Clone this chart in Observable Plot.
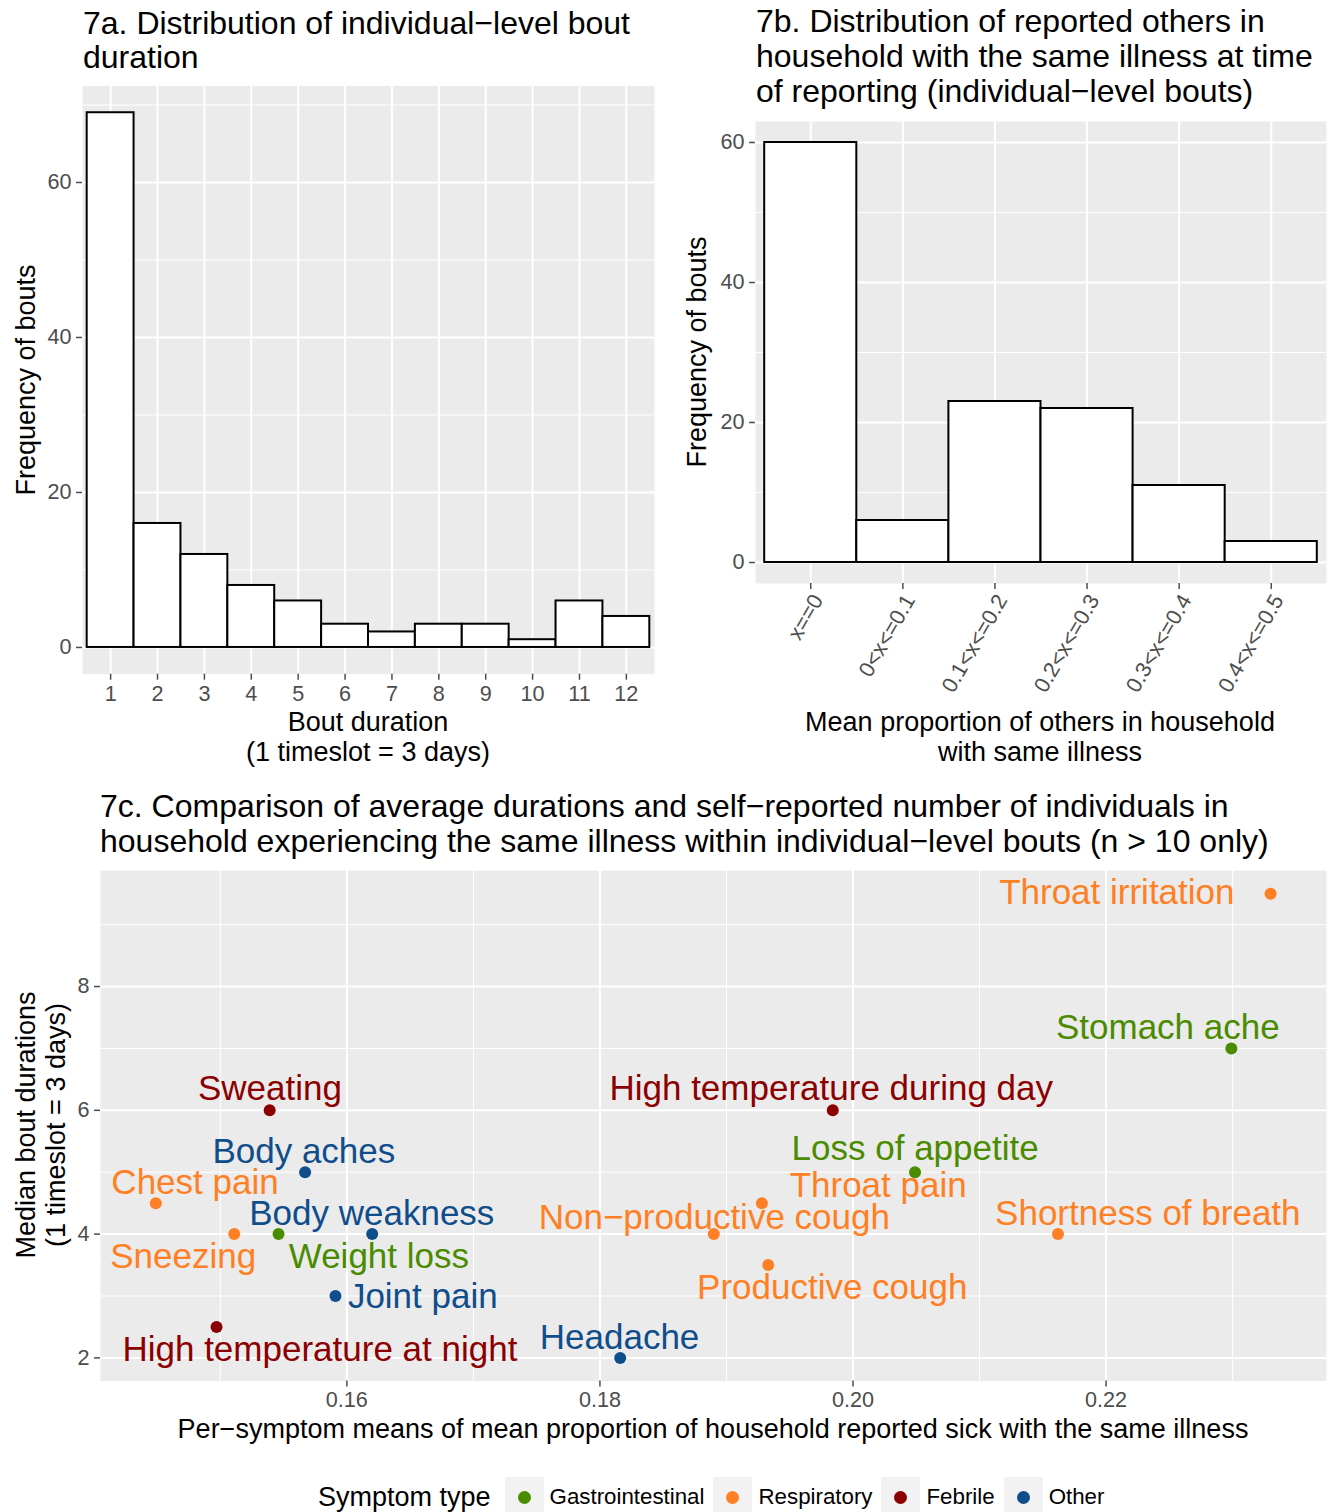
<!DOCTYPE html>
<html><head><meta charset="utf-8">
<script src="https://cdn.jsdelivr.net/npm/d3@7"></script>
<script src="https://cdn.jsdelivr.net/npm/@observablehq/plot@0.6"></script>
<style>
body{margin:0;background:#fff;}
#root{position:relative;width:1333px;height:1512px;overflow:hidden;font-family:"Liberation Sans",Arial,Helvetica,sans-serif;color:#000;}
.abs{position:absolute;white-space:nowrap;}
.ctr{position:absolute;white-space:nowrap;transform:translate(-50%,-50%);}
#root svg{position:absolute;}
</style></head><body><div id="root"></div>
<script>
// ---- 7a data ----
const boutDurations = ["1","2","3","4","5","6","7","8","9","10","11","12"];
const boutCounts = [69,16,12,8,6,3,2,3,3,1,6,4];
const countTicksA = [0,20,40,60];
const countMinorA = [10,30,50,70];
// ---- 7b data ----
const propCategories = ["x==0","0<x<=0.1","0.1<x<=0.2","0.2<x<=0.3","0.3<x<=0.4","0.4<x<=0.5"];
const propCounts = [60,6,23,22,11,3];
const countTicksB = [0,20,40,60];
const countMinorB = [10,30,50];
// ---- 7c data ----
const symptoms = ["Throat irritation","Stomach ache","High temperature during day","Loss of appetite","Throat pain","Non\u2212productive cough","Shortness of breath","Productive cough","Headache","Sweating","Body aches","Chest pain","Sneezing","Weight loss","Body weakness","Joint pain","High temperature at night"];
const symptomType = ["Respiratory","Gastrointestinal","Febrile","Gastrointestinal","Respiratory","Respiratory","Respiratory","Respiratory","Other","Febrile","Other","Respiratory","Respiratory","Gastrointestinal","Other","Other","Febrile"];
const meanProportion = [0.2330,0.2299,0.1984,0.2049,0.1928,0.1890,0.2162,0.1933,0.1816,0.1539,0.1567,0.1449,0.1511,0.1546,0.1620,0.1591,0.1497];
const medianDuration = [9.5,7,6,5,4.5,4,4,3.5,2,6,5,4.5,4,4,4,3,2.5];
// repelled label anchors (data units)
const labelX = [0.22085,0.22488,0.19828,0.20491,0.20199,0.18904,0.2233,0.19836,0.18155,0.15392,0.1566,0.1480,0.14706,0.16253,0.16197,0.1660,0.15787];
const labelY = [9.51,7.34,6.34,5.38,4.78,4.27,4.33,3.13,2.32,6.35,5.33,4.83,3.63,3.63,4.33,2.99,2.13];
const xTicksC = [0.16,0.18,0.20,0.22];
const xMinorC = [0.15,0.17,0.19,0.21,0.23];
const yTicksC = [2,4,6,8];
const yMinorC = [3,5,7,9];
const typeNames = ["Gastrointestinal","Respiratory","Febrile","Other"];
const typeColors = ["#4A8B00","#FF7F24","#8B0000","#104E8B"];

const root = document.getElementById("root");
const FONT = '"Liberation Sans",Arial,Helvetica,sans-serif';
const baseStyle = {background:"transparent", fontFamily: FONT, overflow:"visible"};
const PANEL = "#EBEBEB";
const TICKC = "#4D4D4D";

function place(svg, left, top){ svg.style.left = left+"px"; svg.style.top = top+"px"; root.appendChild(svg); }
function ctext(txt, x, y, size, opts={}){
  const d = document.createElement("div");
  d.className = "ctr"; d.textContent = txt;
  d.style.left = x+"px"; d.style.top = y+"px"; d.style.fontSize = size+"px";
  d.style.lineHeight = (size*1.15)+"px";
  if (opts.rotate) d.style.transform = "translate(-50%,-50%) rotate(-90deg)";
  if (opts.color) d.style.color = opts.color;
  root.appendChild(d); return d;
}
function ltext(html, x, top, size, lh){
  const d = document.createElement("div");
  d.className = "abs"; d.innerHTML = html;
  d.style.left = x+"px"; d.style.top = top+"px"; d.style.fontSize = size+"px"; d.style.lineHeight = lh+"px";
  root.appendChild(d); return d;
}

// ---------- 7a ----------
const idxA = d3.range(boutDurations.length);
const plotA = Plot.plot({
  width: 666, height: 780,
  marginLeft: 82, marginRight: 12, marginTop: 85.5, marginBottom: 106.3,
  style: baseStyle,
  x: {type:"band", domain: boutDurations, paddingInner: 0, paddingOuter: 0.1, round: false, axis: null},
  y: {domain: [-3.45, 72.45], axis: null},
  marks: [
    Plot.frame({fill: PANEL, stroke: null}),
    Plot.gridY(countMinorA, {stroke:"white", strokeOpacity:1, strokeWidth:1}),
    Plot.gridY(countTicksA, {stroke:"white", strokeOpacity:1, strokeWidth:2}),
    Plot.gridX(boutDurations, {stroke:"white", strokeOpacity:1, strokeWidth:2}),
    Plot.barY(idxA, {x: i => boutDurations[i], y: i => boutCounts[i], fill:"white", stroke:"black", strokeWidth:2}),
    Plot.axisY(countTicksA, {tickSize:6, tickPadding:5, fontSize:21.6, color:TICKC, strokeWidth:1.5}),
    Plot.axisX(boutDurations, {tickSize:6, tickPadding:5, fontSize:21.6, color:TICKC, strokeWidth:1.5})
  ]
});
place(plotA, 0, 0);

// ---------- 7b ----------
const idxB = d3.range(propCategories.length);
const plotB = Plot.plot({
  width: 653, height: 780,
  marginLeft: 75, marginRight: 7, marginTop: 121, marginBottom: 197,
  style: baseStyle,
  x: {type:"band", domain: propCategories, paddingInner: 0, paddingOuter: 0.1, round: false, axis: null},
  y: {domain: [-3, 63], axis: null},
  marks: [
    Plot.frame({fill: PANEL, stroke: null}),
    Plot.gridY(countMinorB, {stroke:"white", strokeOpacity:1, strokeWidth:1}),
    Plot.gridY(countTicksB, {stroke:"white", strokeOpacity:1, strokeWidth:2}),
    Plot.gridX(propCategories, {stroke:"white", strokeOpacity:1, strokeWidth:2}),
    Plot.barY(idxB, {x: i => propCategories[i], y: i => propCounts[i], fill:"white", stroke:"black", strokeWidth:2}),
    Plot.axisY(countTicksB, {tickSize:6, tickPadding:5, fontSize:21.6, color:TICKC, strokeWidth:1.5}),
    Plot.axisX(propCategories, {tickSize:6, tickPadding:4, fontSize:21.6, color:TICKC, strokeWidth:1.5, text: null}),
    Plot.axisX(propCategories, {tickSize:0, tickPadding:4, fontSize:21.6, color:TICKC, tickRotate:-60, dx:7, dy:9})
  ]
});
place(plotB, 680, 0);

// ---------- 7c ----------
const idxC = d3.range(symptoms.length);
const plotC = Plot.plot({
  width: 1333, height: 660,
  marginLeft: 100, marginRight: 7, marginTop: 90, marginBottom: 59.4,
  style: baseStyle,
  x: {domain: [0.14053, 0.23742], axis: null},
  y: {domain: [1.625, 9.875], axis: null},
  color: {domain: typeNames, range: typeColors},
  marks: [
    Plot.frame({fill: PANEL, stroke: null}),
    Plot.gridX(xMinorC, {stroke:"white", strokeOpacity:1, strokeWidth:1}),
    Plot.gridY(yMinorC, {stroke:"white", strokeOpacity:1, strokeWidth:1}),
    Plot.gridX(xTicksC, {stroke:"white", strokeOpacity:1, strokeWidth:2}),
    Plot.gridY(yTicksC, {stroke:"white", strokeOpacity:1, strokeWidth:2}),
    Plot.dot(idxC, {x: i => meanProportion[i], y: i => medianDuration[i], r: 6, fill: i => symptomType[i], stroke: null}),
    Plot.text(idxC, {x: i => labelX[i], y: i => labelY[i], text: i => symptoms[i], fill: i => symptomType[i], fontSize: 35, textAnchor: "middle", lineAnchor: "middle"}),
    Plot.axisY(yTicksC, {tickSize:6, tickPadding:5, fontSize:21.6, color:TICKC, strokeWidth:1.5, tickFormat: d => String(d)}),
    Plot.axisX(xTicksC, {tickSize:6, tickPadding:5, fontSize:21.6, color:TICKC, strokeWidth:1.5, tickFormat: d => d.toFixed(2)})
  ]
});
place(plotC, 0, 780);

// ---------- titles ----------
ltext("7a. Distribution of individual\u2212level bout<br>duration", 83, 5.7, 32, 34.5);
ltext("7b. Distribution of reported others in<br>household with the same illness at time<br>of reporting (individual\u2212level bouts)", 756, 4.4, 32, 35);
ltext("7c. Comparison of average durations and self\u2212reported number of individuals in<br>household experiencing the same illness within individual\u2212level bouts (n &gt; 10 only)", 100, 789.4, 32, 35);

// ---------- axis titles ----------
ctext("Bout duration", 368, 723, 27);
ctext("(1 timeslot = 3 days)", 368, 753, 27);
ctext("Frequency of bouts", 27, 380, 27, {rotate:true});
ctext("Frequency of bouts", 698, 352, 27, {rotate:true});
ctext("Mean proportion of others in household", 1040, 723, 27);
ctext("with same illness", 1040, 753, 27);
ctext("Median bout durations", 27, 1125, 27, {rotate:true});
ctext("(1 timeslot = 3 days)", 57, 1125, 27, {rotate:true});
ctext("Per\u2212symptom means of mean proportion of household reported sick with the same illness", 713, 1430, 27);

// ---------- legend ----------
(function(){
  const lg = document.createElement("div");
  lg.className = "abs";
  lg.style.left = "318px"; lg.style.top = "1477px"; lg.style.height = "40px";
  lg.style.display = "flex"; lg.style.alignItems = "center";
  const t = document.createElement("span");
  t.textContent = "Symptom type"; t.style.fontSize = "27px"; t.style.marginRight = "14px";
  lg.appendChild(t);
  typeNames.forEach((name, k) => {
    const key = document.createElement("span");
    key.style.cssText = "display:inline-flex;align-items:center;justify-content:center;width:39px;height:40px;background:#F2F2F2;";
    const dot = document.createElement("span");
    dot.style.cssText = "display:block;width:13px;height:13px;border-radius:50%;background:" + typeColors[k] + ";";
    key.appendChild(dot);
    lg.appendChild(key);
    const lab = document.createElement("span");
    lab.textContent = name; lab.style.fontSize = "22.3px"; lab.style.marginLeft = "6px"; lab.style.marginRight = "9px";
    lg.appendChild(lab);
  });
  root.appendChild(lg);
})();
</script>
</body></html>
